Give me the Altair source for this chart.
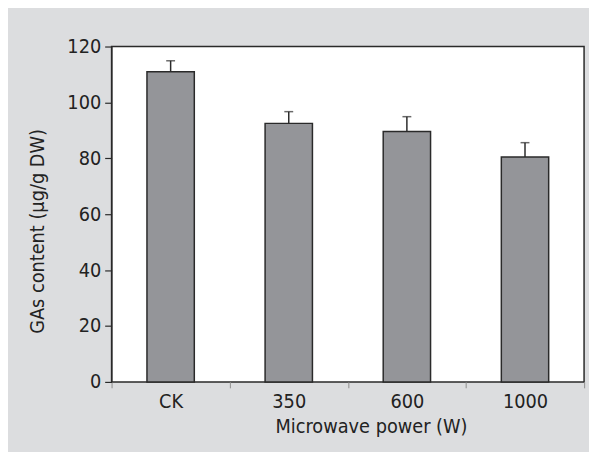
import altair as alt
import pandas as pd

categories = ["CK", "350", "600", "1000"]
means = [111.0, 92.5, 89.6, 80.5]
errors = [3.9, 4.2, 5.3, 5.1]

df = pd.DataFrame({"power": categories, "gas": means, "err": errors})
df["top"] = df["gas"] + df["err"]

FONT = "Liberation Sans Narrow, DejaVu Sans Condensed, Arial Narrow, sans-serif"
DARK = "#2a2a2a"

x_enc = alt.X(
    "power:N",
    sort=categories,
    scale=alt.Scale(paddingInner=0, paddingOuter=0),
    axis=alt.Axis(
        title="Microwave power (W)",
        labelAngle=0,
        tickBand="extent",
        tickColor="#9a9a9a",
        tickSize=6,
        tickWidth=1.2,
        domain=False,
        labelPadding=4,
        titlePadding=5,
        titleX=263,
    ),
)
y_scale = alt.Scale(domain=[0, 120], nice=False)

bars = alt.Chart(df).mark_bar(
    size=48, color="#949599", stroke=DARK, strokeWidth=1.5
).encode(
    x=x_enc,
    y=alt.Y(
        "gas:Q",
        scale=y_scale,
        axis=alt.Axis(
            title="GAs content (μg/g DW)",
            values=[0, 20, 40, 60, 80, 100, 120],
            grid=False,
            tickSize=7,
            tickColor=DARK,
            domainColor=DARK,
            tickWidth=1.2,
            labelPadding=4,
            titleX=-75,
            titleY=187,
            titleBaseline="middle",
        ),
    ),
)

err_line = alt.Chart(df).mark_rule(color=DARK, strokeWidth=1.5).encode(
    x=alt.X("power:N", sort=categories),
    y=alt.Y("gas:Q", scale=y_scale),
    y2="top:Q",
)

err_cap = alt.Chart(df).mark_tick(
    orient="horizontal", size=9, thickness=1.5, color=DARK
).encode(
    x=alt.X("power:N", sort=categories),
    y=alt.Y("top:Q", scale=y_scale),
)

chart = (
    alt.layer(bars, err_line, err_cap)
    .properties(
        width=479,
        height=340,
        background="#dcdddf",
        padding={"left": 105, "top": 36, "right": 5, "bottom": 68},
        autosize=alt.AutoSizeParams(type="none"),
    )
    .configure_view(fill="white", stroke=DARK, strokeWidth=1.5)
    .configure_axis(
        labelFont=FONT,
        titleFont=FONT,
        labelFontSize=20,
        titleFontSize=20,
        labelColor="#222222",
        titleColor="#222222",
        titleFontWeight="normal",
    )
)

chart.save("out.html", embed_options={"renderer": "svg", "actions": False})
